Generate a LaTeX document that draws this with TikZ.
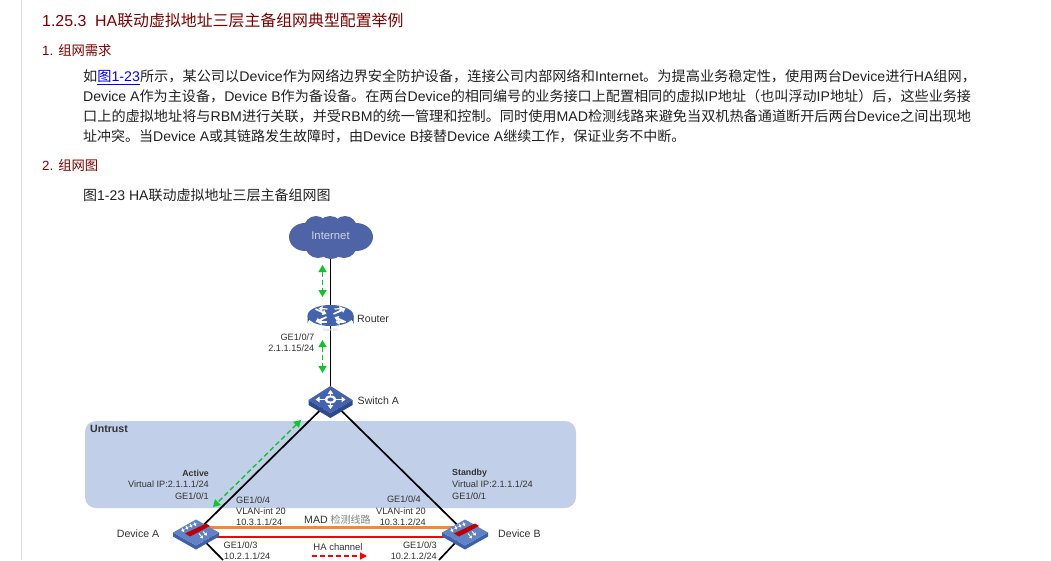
\documentclass[tikz,border=0pt]{standalone}
\usepackage{fontspec}
\usepackage{graphicx}
\setmainfont{Liberation Sans}
\newfontfamily\zhf{Noto Sans CJK SC}
\newcommand{\zh}[1]{{\zhf #1}}
\usetikzlibrary{arrows.meta}
\definecolor{head}{HTML}{800000}
\definecolor{bodyc}{HTML}{222222}
\definecolor{lab}{HTML}{333333}
\definecolor{zone}{HTML}{C1CFE8}
\definecolor{devblue}{HTML}{4463AE}
\definecolor{devtop}{HTML}{6183C6}
\definecolor{devdark}{HTML}{2E4A8C}
\definecolor{devside}{HTML}{3F5FA8}
\definecolor{cloudc}{HTML}{4F64A6}
\definecolor{hagreen}{HTML}{0CC62A}
\definecolor{madorange}{HTML}{F28A30}
\tikzset{
 h1/.style={anchor=base west,inner sep=0,text=head,font=\fontsize{15.9}{16}\selectfont},
 h2/.style={anchor=base west,inner sep=0,text=head,font=\fontsize{13.33}{13.33}\selectfont},
 para/.style={anchor=base west,inner sep=0,text=bodyc,font=\fontsize{14}{14}\selectfont},
 lbl/.style={inner sep=0,text=lab,font=\fontsize{9.2}{10}\selectfont},
 lblb/.style={inner sep=0,text=lab,font=\fontsize{8.8}{10}\selectfont\bfseries},
 devlbl/.style={inner sep=0,text=lab,font=\fontsize{10.6}{11}\selectfont},
 link/.style={black,line width=1.7pt},
 green2/.style={hagreen,line width=1.4pt,dash pattern=on 5pt off 3pt,{Triangle[length=7pt,width=8pt]}-{Triangle[length=7pt,width=8pt]}},
 anchorpt/.style={inner sep=0,minimum size=0,shape=coordinate},
 wa/.style={white,line width=1.7pt,-{Triangle[length=4pt,width=5.5pt]}},
 wb/.style={white,line width=1.7pt,{Triangle[length=4pt,width=5.5pt]}-{Triangle[length=4pt,width=5.5pt]}},
 wc/.style={white,line width=.9pt,-{Triangle[length=2.5pt,width=3.5pt]}}
}
\begin{document}
\begin{tikzpicture}[x=1pt,y=-1pt]
\useasboundingbox (0,0) rectangle (1051,560);
\fill[white] (0,0) rectangle (1051,560);
\fill[gray!25] (20.5,0) rectangle (22,560);
% text
\node[h1] (title) at (42,26) {1.25.3\ \ HA\zh{联动虚拟地址三层主备组网典型配置举例}};
\node[h2] (s1) at (42,55.5) {1. \zh{组网需求}};
\node[para] (l1) at (83,81.5) {\scalebox{1.014}[1]{\zh{如}{\color{blue}\underline{\zh{图}1-23}}\zh{所示，某公司以}Device\zh{作为网络边界安全防护设备，连接公司内部网络和}Internet\zh{。为提高业务稳定性，使用两台}Device\zh{进行}HA\zh{组网，}}};
\node[para] (l2) at (83,101.5) {\scalebox{1.0075}[1]{Device A\zh{作为主设备，}Device B\zh{作为备设备。在两台}Device\zh{的相同编号的业务接口上配置相同的虚拟}IP\zh{地址（也叫浮动}IP\zh{地址）后，这些业务接}}};
\node[para] (l3) at (83,121.5) {\scalebox{1.011}[1]{\zh{口上的虚拟地址将与}RBM\zh{进行关联，并受}RBM\zh{的统一管理和控制。同时使用}MAD\zh{检测线路来避免当双机热备通道断开后两台}Device\zh{之间出现地}}};
\node[para] (l4) at (83,141.5) {\zh{址冲突。当}Device A\zh{或其链路发生故障时，由}Device B\zh{接替}Device A\zh{继续工作，保证业务不中断。}};
\node[h2] (s2) at (42,170.5) {2. \zh{组网图}};
\node[para] (cap) at (83,200.5) {\zh{图}1-23 HA\zh{联动虚拟地址三层主备组网图}};
% zone
\fill[zone,rounded corners=11pt] (85,421) rectangle (576,508);
% node positions
\node[anchorpt] (cloud) at (330.5,236) {};
\node[anchorpt] (router) at (330.5,320) {};
\node[anchorpt] (switch) at (330.5,400) {};
\node[anchorpt] (deva) at (196,532.5) {};
\node[anchorpt] (devb) at (465,532.5) {};
\coordinate (aout) at (223,560);
\coordinate (bout) at (439,560);
% links
\draw[link] (cloud) -- (router);
\draw[link] (router) -- (switch);
\draw[link] (switch) -- (deva);
\draw[link] (switch) -- (devb);
\draw[link] (deva) -- (aout);
\draw[link] (devb) -- (bout);
\draw[madorange,line width=2.4pt] ([yshift=5pt]deva.center) -- ([yshift=5pt]devb.center);
\draw[red,line width=2pt] ([yshift=-4pt]deva.center) -- ([yshift=-4pt]devb.center);
% green
\coordinate (g1a) at (322.5,265); \coordinate (g1b) at (322.5,297);
\coordinate (g2a) at (322.5,340); \coordinate (g2b) at (322.5,373);
\coordinate (g3a) at (301,420); \coordinate (g3b) at (213,507);
\draw[green2] (g1a) -- (g1b);
\draw[green2] (g2a) -- (g2b);
\draw[green2] (g3a) -- (g3b);
% cloud
\fill[cloudc] (305,237) ellipse[x radius=16,y radius=14] (356,237) ellipse[x radius=17,y radius=14]
 (316,228) circle (12) (345,228) circle (12) (330,229) circle (13)
 (318,245) circle (13) (331,246) circle (13) (344,245) circle (13);
\node[inner sep=0,text=white!72!cloudc,font=\fontsize{11.3}{12}\selectfont] (inet) at (cloud) {Internet};
% router icon
\begin{scope}[shift={(router)}]
\fill[devdark] (-23,-4.5) -- (-23,4) arc[start angle=180,end angle=360,x radius=23,y radius=11] -- (23,-4.5) -- cycle;
\fill[devblue] (0,-4.5) ellipse[x radius=23,y radius=10.5];
\draw[wa] (-15,-11) -- (-4,-6);
\draw[wa] (3,-6) -- (15,-11.5);
\draw[wa] (-4,-3) -- (-15,2);
\draw[wa] (15,2) -- (4,-3);
\draw[wa,line width=1.2pt] (-3,-11) -- (-12,-11.5);
\draw[wa,line width=1.2pt] (4,-11) -- (13,-11.5);
\draw[wa,line width=1.2pt] (-4,2) -- (-13,2);
\draw[wa,line width=1.2pt] (13,2) -- (5,2);
\node[inner sep=0,white!75!devblue,font=\fontsize{3.5}{3.5}\selectfont\bfseries] (rtag) at (0,10.5) {ROUTER};
\end{scope}
% switch icon
\begin{scope}[shift={(switch)}]
\fill[devdark] (-22,0) -- (0,13) -- (22,0) -- (22,5) -- (0,18) -- (-22,5) -- cycle;
\fill[devblue] (-22,0) -- (0,-14) -- (22,0) -- (0,13) -- cycle;
\draw[wb] (-15,-.5) -- (15,-.5);
\draw[wb] (0,-10) -- (0,9);
\fill[white] (0,-.5) ellipse[x radius=6,y radius=4];
\fill[devblue] (0,-.5) ellipse[x radius=3,y radius=2];
\end{scope}
% devices
\foreach \d in {deva,devb}{
\begin{scope}[shift={(\d)}]
\fill[devside] (-23,0) -- (0,13) -- (23,0) -- (23,4) -- (0,17) -- (-23,4) -- cycle;
\fill[devtop] (-23,0) -- (0,-13) -- (23,0) -- (0,13) -- cycle;
\fill[red!75!black] (-11,1) -- (10,-9) -- (14,-6.5) -- (-6,4) -- cycle;
\draw[wc] (-2,-10) -- (0,-6.5);
\draw[wc] (-6,-8.5) -- (-4,-5);
\draw[wc] (-10,-6.5) -- (-8,-3);
\draw[wc] (-14,-4) -- (-12,-.5);
\draw[wc] (3,1) -- (7,6);
\draw[wc] (7,-1) -- (11,3);
\end{scope}}
% labels
\node[devlbl,anchor=west] (rname) at (357,319) {Router};
\node[devlbl,anchor=west] (sname) at (357.5,401) {Switch A};
\node[devlbl,anchor=east] (aname) at (159.5,534) {Device A};
\node[devlbl,anchor=west] (bname) at (498,534) {Device B};
\node[lbl,anchor=east] (r1) at (314.5,337) {GE1/0/7};
\node[lbl,anchor=east] (r2) at (314.5,348) {2.1.1.15/24};
\node[lblb,anchor=west,font=\fontsize{10.6}{11}\selectfont\bfseries] (untrust) at (90,429) {Untrust};
\node[lblb,anchor=east] (active) at (209,473) {Active};
\node[lbl,anchor=east] (a1) at (209,484.5) {Virtual IP:2.1.1.1/24};
\node[lbl,anchor=east] (a2) at (209,496) {GE1/0/1};
\node[lblb,anchor=west] (standby) at (452,473.5) {Standby};
\node[lbl,anchor=west] (b1) at (452,484.5) {Virtual IP:2.1.1.1/24};
\node[lbl,anchor=west] (b2) at (452,496) {GE1/0/1};
\node[lbl,anchor=west] (a3) at (236,500) {GE1/0/4};
\node[lbl,anchor=west] (a4) at (236,511) {VLAN-int 20};
\node[lbl,anchor=west] (a5) at (236,522) {10.3.1.1/24};
\node[lbl,anchor=east] (b3) at (421,499.5) {GE1/0/4};
\node[lbl,anchor=east] (b4) at (426,511) {VLAN-int 20};
\node[lbl,anchor=east] (b5) at (426,522) {10.3.1.2/24};
\node[lbl,anchor=west] (a6) at (223.5,545.5) {GE1/0/3};
\node[lbl,anchor=west] (a7) at (224,556) {10.2.1.1/24};
\node[lbl,anchor=east] (b6) at (437,545) {GE1/0/3};
\node[lbl,anchor=east] (b7) at (437,556) {10.2.1.2/24};
\node[lbl,anchor=west,font=\fontsize{10.6}{11}\selectfont] (mad) at (304,520) {MAD \textcolor{gray}{\fontsize{10}{10}\selectfont\zh{检测线路}}};
\node[lbl,font=\fontsize{9.5}{10}\selectfont] (ha) at (338,547) {HA channel};
\coordinate (hal) at (312,556); \coordinate (har) at (367,556);
\draw[red,line width=1.3pt,dash pattern=on 5pt off 3pt,-{Triangle[length=7pt,width=7pt]}] (hal) -- (har);
\end{tikzpicture}
\end{document}
